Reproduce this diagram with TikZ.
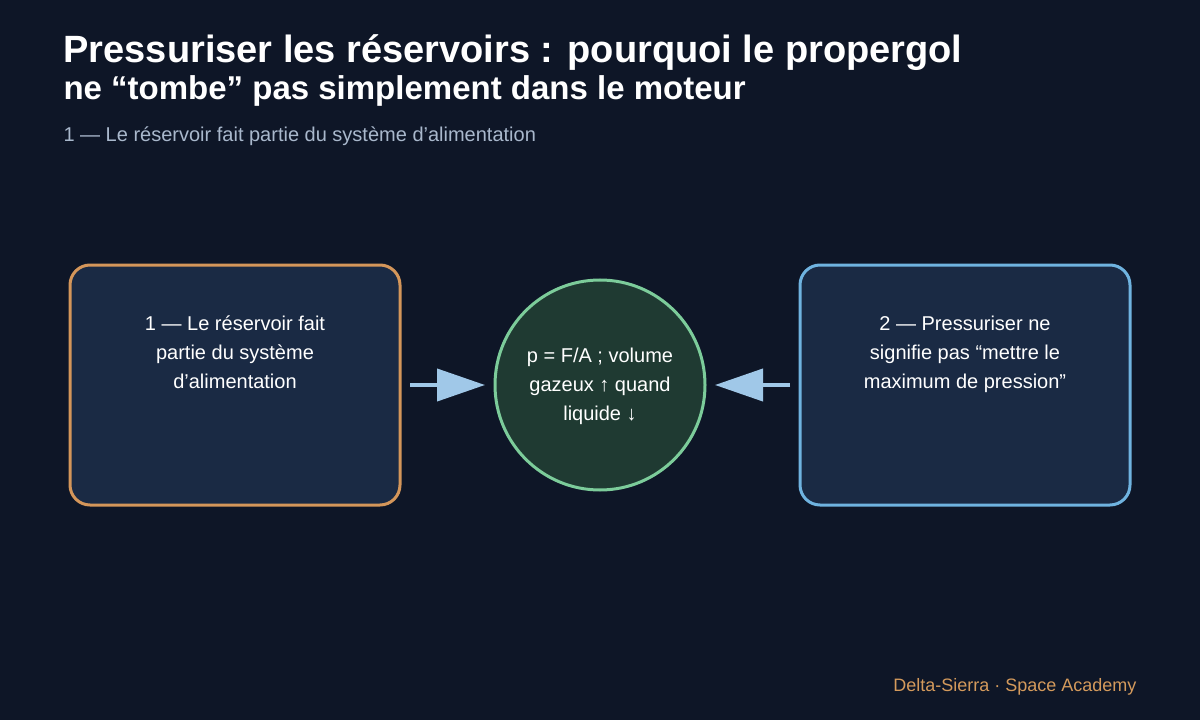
\documentclass[tikz,border=0pt]{standalone}
\usepackage{fontspec}
\setmainfont{Liberation Sans}
\usetikzlibrary{arrows.meta}
\definecolor{bg}{HTML}{0E1627}
\definecolor{boxfill}{HTML}{1A2A44}
\definecolor{orangeb}{HTML}{D4965A}
\definecolor{blueb}{HTML}{6FB3E0}
\definecolor{circfill}{HTML}{1F3A32}
\definecolor{greenb}{HTML}{7CCC9A}
\definecolor{arrowc}{HTML}{A0C8E8}
\definecolor{subc}{HTML}{A9B8CC}
\definecolor{footc}{HTML}{D49A5C}
\begin{document}
\begin{tikzpicture}[x=1bp,y=-1bp,
  card/.style={draw, line width=3bp, fill=boxfill, rounded corners=20bp},
  cardtext/.style={text=white, align=center, font=\fontsize{20bp}{29bp}\selectfont, anchor=north},
  conn/.style={draw=arrowc, line width=4bp, -{Triangle[length=48bp,width=32bp]}}]
\useasboundingbox[fill=bg] (0,0) rectangle (1200,720);
\node[anchor=base west, text=white, font=\fontsize{38bp}{40bp}\selectfont\bfseries] (t1) at (60,63) {Pressuriser les réservoirs : pourquoi le propergol};
\node[anchor=base west, text=white, font=\fontsize{33bp}{36bp}\selectfont\bfseries] (t2) at (60,100) {ne “tombe” pas simplement dans le moteur};
\node[anchor=base west, text=subc, font=\fontsize{20bp}{24bp}\selectfont] (st) at (60,142) {1 — Le réservoir fait partie du système d’alimentation};
\draw[card, draw=orangeb] (70,265) rectangle (400,505);
\node (lb) at (235,385) {};
\node[cardtext] (lt) at (235,312) {1 — Le réservoir fait\\partie du système\\d’alimentation};
\draw[card, draw=blueb] (800,265) rectangle (1130,505);
\node (rb) at (965,385) {};
\node[cardtext] (rt) at (965,312) {2 — Pressuriser ne\\signifie pas “mettre le\\maximum de pression”};
\node[circle, draw=greenb, line width=3bp, fill=circfill, minimum size=210bp, inner sep=0pt] (c) at (600,385) {};
\node[cardtext, anchor=center] (ct) at (600,386) {p = F/A ; volume\\gazeux ↑ quand\\liquide ↓};
\coordinate (a1) at (410,385);
\coordinate (a2) at (790,385);
\draw[conn] (a1) -- (485,385);
\draw[conn] (a2) -- (715,385);
\node[anchor=base east, text=footc, font=\fontsize{18bp}{22bp}\selectfont] (ft) at (1140,691) {Delta-Sierra · Space Academy};
\end{tikzpicture}
\end{document}
